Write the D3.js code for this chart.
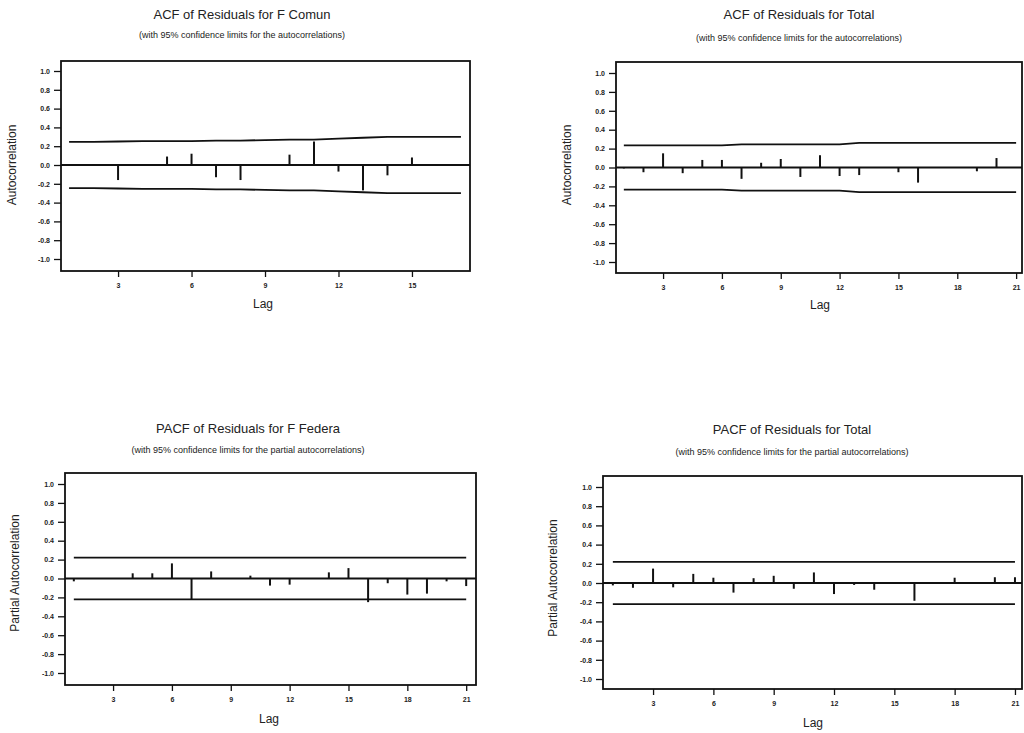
<!DOCTYPE html>
<html lang="en">
<head>
<meta charset="utf-8">
<title>ACF / PACF of Residuals</title>
<script src="https://cdn.jsdelivr.net/npm/d3@7"></script>
<style>
body { margin: 0; background: #fff; }
svg { font-family: "Liberation Sans", Arial, sans-serif; }
.frame { fill: none; stroke: #111; stroke-width: 1.8px; }
.zero { stroke: #111; stroke-width: 1.8px; }
.limit { fill: none; stroke: #111; stroke-width: 1.8px; }
.bar { stroke: #111; stroke-width: 2px; }
.tick line { stroke: #111; stroke-width: 1.3px; }
.tick text { font-size: 7px; font-weight: bold; fill: #222; }
.title { font-size: 13px; fill: #222; }
.subtitle { font-size: 9px; fill: #222; }
.axlabel { font-size: 12px; fill: #222; }
</style>
</head>
<body>
<script>

// lags (categories)
var lags17 = [1,2,3,4,5,6,7,8,9,10,11,12,13,14,15,16,17];
var lags21 = [1,2,3,4,5,6,7,8,9,10,11,12,13,14,15,16,17,18,19,20,21];

// ACF of residuals, F Comun
var acfComun = [0.00, 0.01, -0.16, 0.00, 0.09, 0.12, -0.13, -0.16, 0.00, 0.11, 0.25, -0.07, -0.27, -0.11, 0.08, -0.01, 0.00];
var acfComunLimit = [0.245, 0.245, 0.25, 0.255, 0.255, 0.255, 0.26, 0.26, 0.265, 0.27, 0.27, 0.28, 0.29, 0.30, 0.30, 0.30, 0.30];

// ACF of residuals, Total
var acfTotal = [-0.01, -0.05, 0.15, -0.06, 0.08, 0.08, -0.12, 0.05, 0.09, -0.10, 0.13, -0.09, -0.08, 0.00, -0.05, -0.16, 0.00, 0.00, -0.04, 0.10, 0.00];
var acfTotalLimit = [0.235, 0.235, 0.235, 0.235, 0.235, 0.235, 0.245, 0.245, 0.245, 0.245, 0.245, 0.245, 0.26, 0.26, 0.26, 0.26, 0.26, 0.26, 0.26, 0.26, 0.26];

// PACF of residuals, F Federa
var pacfFedera = [-0.03, 0.00, 0.00, 0.055, 0.055, 0.16, -0.22, 0.075, 0.00, 0.03, -0.075, -0.065, 0.00, 0.065, 0.11, -0.25, -0.05, -0.17, -0.16, -0.03, -0.08];
var pacfFederaLimit = [0.22, 0.22, 0.22, 0.22, 0.22, 0.22, 0.22, 0.22, 0.22, 0.22, 0.22, 0.22, 0.22, 0.22, 0.22, 0.22, 0.22, 0.22, 0.22, 0.22, 0.22];

// PACF of residuals, Total
var pacfTotal = [-0.025, -0.05, 0.15, -0.045, 0.095, 0.055, -0.10, 0.05, 0.075, -0.06, 0.11, -0.115, -0.02, -0.07, -0.01, -0.185, 0.00, 0.055, 0.00, 0.06, 0.06];
var pacfTotalLimit = [0.22, 0.22, 0.22, 0.22, 0.22, 0.22, 0.22, 0.22, 0.22, 0.22, 0.22, 0.22, 0.22, 0.22, 0.22, 0.22, 0.22, 0.22, 0.22, 0.22, 0.22];

// tick labels
var yTicks = [1.0, 0.8, 0.6, 0.4, 0.2, 0.0, -0.2, -0.4, -0.6, -0.8, -1.0];
var xTicks15 = [3, 6, 9, 12, 15];
var xTicks21 = [3, 6, 9, 12, 15, 18, 21];

var titles = ["ACF of Residuals for F Comun", "ACF of Residuals for Total",
              "PACF of Residuals for F Federa", "PACF of Residuals for Total"];
var subtitles = ["(with 95% confidence limits for the autocorrelations)",
                 "(with 95% confidence limits for the autocorrelations)",
                 "(with 95% confidence limits for the partial autocorrelations)",
                 "(with 95% confidence limits for the partial autocorrelations)"];
var yLabels = ["Autocorrelation", "Autocorrelation", "Partial Autocorrelation", "Partial Autocorrelation"];

var svg = d3.select("body").append("svg")
    .attr("width", 1024)
    .attr("height", 733);

// layout of each panel: frame box, lag range of the box, y pixel of +1 / -1
var panels = [
  { lags: lags17, vals: acfComun, lim: acfComunLimit, xt: xTicks15,
    left: 61, right: 470, top: 61, bottom: 271, lagLo: 0.67, lagHi: 17.37, yTop: 71, yBot: 259,
    titleX: 242, titleY: 19, subY: 38, ylabX: 16, ylabY: 165, lagX: 263, lagY: 308 },
  { lags: lags21, vals: acfTotal, lim: acfTotalLimit, xt: xTicks21,
    left: 616, right: 1022, top: 62, bottom: 273, lagLo: 0.6, lagHi: 21.3, yTop: 73, yBot: 262,
    titleX: 799, titleY: 19, subY: 41, ylabX: 571, ylabY: 165, lagX: 820, lagY: 309 },
  { lags: lags21, vals: pacfFedera, lim: pacfFederaLimit, xt: xTicks21,
    left: 65, right: 476, top: 473, bottom: 685, lagLo: 0.55, lagHi: 21.5, yTop: 484, yBot: 673,
    titleX: 248, titleY: 433, subY: 453, ylabX: 19, ylabY: 573, lagX: 269, lagY: 723 },
  { lags: lags21, vals: pacfTotal, lim: pacfTotalLimit, xt: xTicks21,
    left: 603, right: 1022, top: 476, bottom: 689, lagLo: 0.51, lagHi: 21.35, yTop: 487, yBot: 679,
    titleX: 792, titleY: 434, subY: 455, ylabX: 557, ylabY: 578, lagX: 813, lagY: 727 }
];

var fmt = function(d) { return (d < 0 ? "-" : "") + Math.abs(d).toFixed(1); };

panels.forEach(function(p, i) {
  var x = d3.scaleLinear().domain([p.lagLo, p.lagHi]).range([p.left, p.right]);
  var y = d3.scaleLinear().domain([-1, 1]).range([p.yBot, p.yTop]);
  var g = svg.append("g");

  g.append("text").attr("class", "title")
      .attr("x", p.titleX).attr("y", p.titleY)
      .attr("text-anchor", "middle").text(titles[i]);
  g.append("text").attr("class", "subtitle")
      .attr("x", p.titleX).attr("y", p.subY)
      .attr("text-anchor", "middle").text(subtitles[i]);

  // axes
  var yAxis = g.append("g")
      .attr("transform", "translate(" + p.left + ",0)")
      .call(d3.axisLeft(y).tickValues(yTicks).tickFormat(fmt).tickSize(7).tickPadding(4));
  yAxis.select(".domain").remove();

  var xAxis = g.append("g")
      .attr("transform", "translate(0," + p.bottom + ")")
      .call(d3.axisBottom(x).tickValues(p.xt).tickSize(6).tickPadding(6));
  xAxis.select(".domain").remove();

  g.append("rect").attr("class", "frame")
      .attr("x", p.left).attr("y", p.top)
      .attr("width", p.right - p.left).attr("height", p.bottom - p.top);

  g.append("line").attr("class", "zero")
      .attr("x1", p.left).attr("x2", p.right)
      .attr("y1", y(0)).attr("y2", y(0));

  // confidence limits
  var upper = d3.line().x(function(d, j) { return x(p.lags[j]); }).y(function(d) { return y(d); });
  var lower = d3.line().x(function(d, j) { return x(p.lags[j]); }).y(function(d) { return y(-d); });
  g.append("path").attr("class", "limit").datum(p.lim).attr("d", upper);
  g.append("path").attr("class", "limit").datum(p.lim).attr("d", lower);

  // bars
  g.selectAll(".bar").data(p.vals).enter().append("line")
      .attr("class", "bar")
      .attr("x1", function(d, j) { return x(p.lags[j]); })
      .attr("x2", function(d, j) { return x(p.lags[j]); })
      .attr("y1", y(0))
      .attr("y2", function(d) { return y(d); });

  g.append("text").attr("class", "axlabel")
      .attr("transform", "translate(" + p.ylabX + "," + p.ylabY + ") rotate(-90)")
      .attr("text-anchor", "middle").text(yLabels[i]);
  g.append("text").attr("class", "axlabel")
      .attr("x", p.lagX).attr("y", p.lagY)
      .attr("text-anchor", "middle").text("Lag");
});

</script>
</body>
</html>
